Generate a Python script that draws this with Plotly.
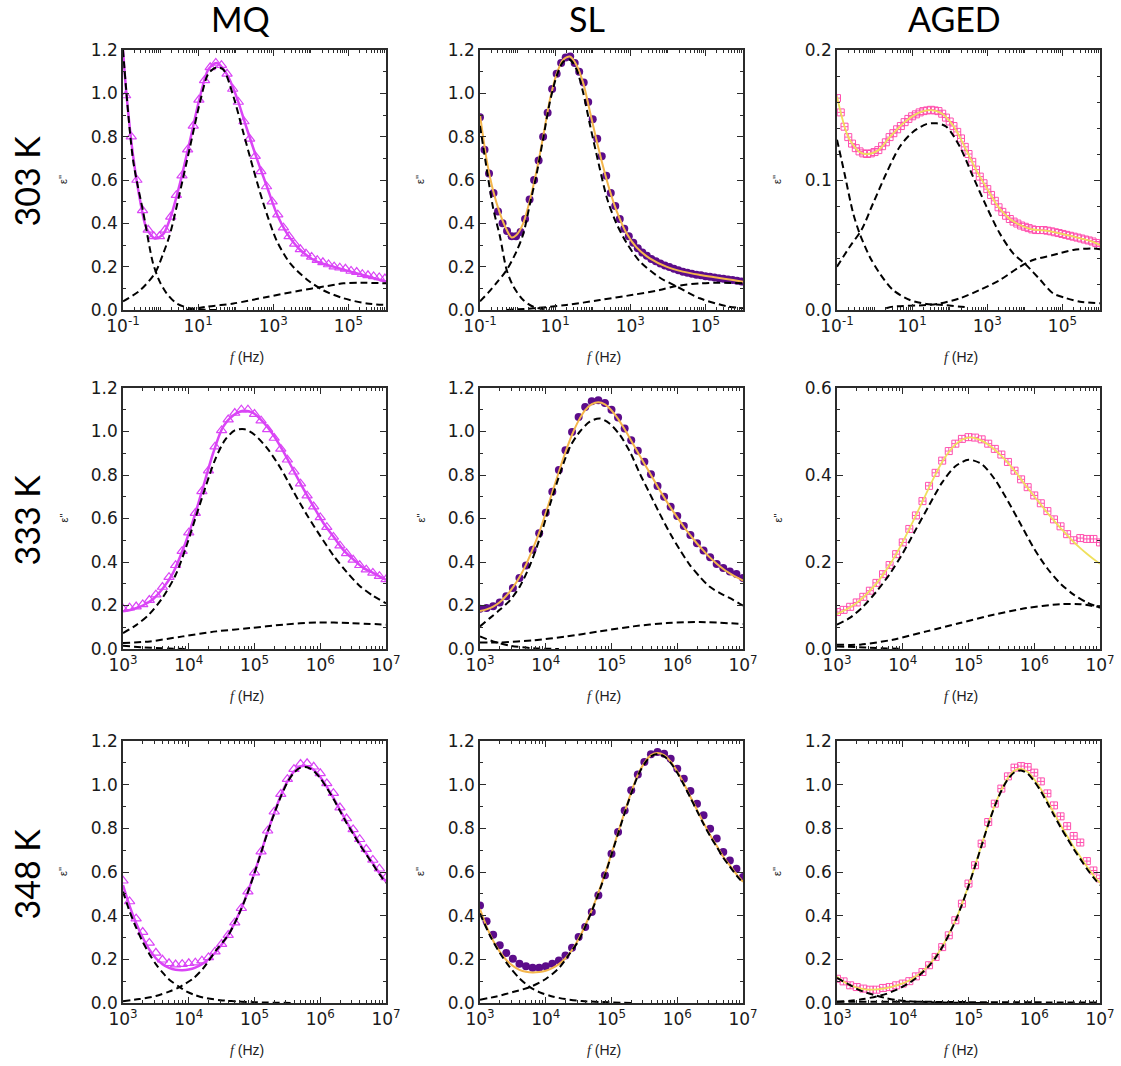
import plotly.graph_objects as go

# ---------------- shared frequency grids (log10 f) ----------------
LOGF_HI = [3.0, 3.1, 3.2, 3.3, 3.4, 3.5, 3.6, 3.7, 3.8, 3.9, 4.0, 4.1, 4.2, 4.3, 4.4, 4.5, 4.6, 4.7, 4.8, 4.9,
           5.0, 5.1, 5.2, 5.3, 5.4, 5.5, 5.6, 5.7, 5.8, 5.9, 6.0, 6.1, 6.2, 6.3, 6.4, 6.5, 6.6, 6.7, 6.8, 6.9, 7.0]

# ---------------- 303 K : MQ ----------------
MQ303_LOGF = [-0.93, -0.78, -0.63, -0.48, -0.33, -0.18, -0.03, 0.12, 0.27, 0.42, 0.57, 0.72, 0.87, 1.02, 1.17,
              1.32, 1.47, 1.62, 1.77, 1.92, 2.07, 2.22, 2.37, 2.52, 2.67, 2.82, 2.97, 3.12, 3.27, 3.42, 3.57,
              3.72, 3.87, 4.02, 4.17, 4.32, 4.47, 4.62, 4.77, 4.92, 5.07, 5.22, 5.37, 5.52, 5.67, 5.82, 5.97]
MQ303_EPS = [0.99, 0.80, 0.60, 0.46, 0.37, 0.34, 0.34, 0.37, 0.43, 0.53, 0.62, 0.74, 0.85, 0.97, 1.06,
             1.12, 1.14, 1.13, 1.09, 1.02, 0.96, 0.87, 0.79, 0.71, 0.64, 0.57, 0.50, 0.44, 0.38, 0.34, 0.305,
             0.28, 0.26, 0.245, 0.23, 0.22, 0.21, 0.20, 0.195, 0.19, 0.18, 0.175, 0.165, 0.16, 0.155, 0.15, 0.145]
MQ303_FIT_LOGF = [-1.0, -0.91, -0.73, -0.55, -0.38, -0.15, 0.07, 0.25, 0.51, 0.78, 1.05, 1.27, 1.49, 1.76,
                  2.02, 2.29, 2.56, 2.83, 3.09, 3.36, 3.72, 4.16, 4.6, 5.05, 5.49, 6.0]
MQ303_FIT = [1.2, 1.0, 0.71, 0.51, 0.38, 0.33, 0.35, 0.42, 0.58, 0.78, 0.985, 1.11, 1.14, 1.09,
             0.985, 0.84, 0.70, 0.57, 0.445, 0.355, 0.277, 0.223, 0.20, 0.177, 0.157, 0.13]
MQ303_C1_LOGF = [-1.0, -0.73, -0.46, -0.2, -0.02, 0.16, 0.43, 0.78, 1.2, 1.6]
MQ303_C1 = [1.2, 0.69, 0.45, 0.215, 0.13, 0.077, 0.03, 0.008, 0.001, 0.0]
MQ303_C2_LOGF = [-1.0, -0.55, -0.15, 0.07, 0.25, 0.51, 0.78, 1.05, 1.27, 1.49, 1.67, 1.94, 2.2, 2.47, 2.74,
                 3.09, 3.45, 3.9, 4.34, 4.87, 5.49, 6.0]
MQ303_C2 = [0.04, 0.09, 0.17, 0.26, 0.35, 0.54, 0.75, 0.96, 1.09, 1.12, 1.11, 0.985, 0.82, 0.65, 0.49,
            0.32, 0.215, 0.14, 0.09, 0.054, 0.03, 0.023]
MQ303_C3_LOGF = [0.7, 1.23, 1.94, 2.83, 3.72, 4.34, 4.87, 5.32, 6.0]
MQ303_C3 = [0.0, 0.015, 0.03, 0.06, 0.09, 0.108, 0.123, 0.126, 0.123]

# ---------------- 303 K : SL ----------------
SL303_LOGF = [-1.0, -0.88, -0.76, -0.64, -0.52, -0.40, -0.28, -0.16, -0.04, 0.08, 0.20, 0.32, 0.44, 0.56, 0.68,
              0.80, 0.92, 1.04, 1.16, 1.28, 1.40, 1.52, 1.64, 1.76, 1.88, 2.00, 2.12, 2.24, 2.36, 2.48, 2.60,
              2.72, 2.84, 2.96, 3.08, 3.20, 3.32, 3.44, 3.56, 3.68, 3.80, 3.92, 4.04, 4.16, 4.28, 4.40, 4.52,
              4.64, 4.76, 4.88, 5.00, 5.12, 5.24, 5.36, 5.48, 5.60, 5.72, 5.84, 5.96]
SL303_EPS = [0.89, 0.74, 0.63, 0.54, 0.455, 0.40, 0.365, 0.34, 0.34, 0.36, 0.42, 0.51, 0.60, 0.69, 0.80,
             0.91, 1.02, 1.09, 1.14, 1.165, 1.17, 1.14, 1.10, 1.05, 0.96, 0.88, 0.79, 0.71, 0.62, 0.54, 0.48,
             0.42, 0.375, 0.34, 0.31, 0.285, 0.265, 0.25, 0.235, 0.225, 0.215, 0.205, 0.198, 0.19, 0.183, 0.177,
             0.172, 0.167, 0.163, 0.16, 0.156, 0.153, 0.15, 0.147, 0.144, 0.141, 0.138, 0.135, 0.131]
SL303_FIT_LOGF = [-1.0, -0.82, -0.65, -0.47, -0.29, -0.16, -0.03, 0.15, 0.33, 0.51, 0.68, 0.86, 1.04, 1.21,
                  1.39, 1.57, 1.75, 1.92, 2.1, 2.28, 2.45, 2.63, 2.9, 3.16, 3.52, 3.96, 4.4, 4.85, 5.29, 5.73, 6.0]
SL303_FIT = [0.90, 0.69, 0.55, 0.446, 0.37, 0.335, 0.346, 0.40, 0.508, 0.646, 0.80, 0.97, 1.09, 1.154,
             1.17, 1.13, 1.046, 0.92, 0.785, 0.66, 0.554, 0.46, 0.354, 0.29, 0.238, 0.20, 0.177, 0.162, 0.15,
             0.138, 0.13]
SL303_C1_LOGF = [-1.0, -0.82, -0.65, -0.47, -0.29, -0.11, 0.15, 0.42, 0.86]
SL303_C1 = [0.85, 0.65, 0.47, 0.34, 0.185, 0.108, 0.046, 0.015, 0.0]
SL303_C2_LOGF = [-1.0, -0.78, -0.56, -0.29, -0.03, 0.15, 0.33, 0.51, 0.68, 0.86, 1.04, 1.21, 1.39, 1.57, 1.75,
                 1.92, 2.1, 2.39, 2.63, 2.9, 3.25, 3.78, 4.22, 4.85, 5.55, 6.0]
SL303_C2 = [0.04, 0.08, 0.125, 0.185, 0.27, 0.35, 0.49, 0.63, 0.79, 0.96, 1.08, 1.145, 1.155, 1.11, 1.0,
            0.86, 0.72, 0.51, 0.40, 0.31, 0.225, 0.15, 0.11, 0.054, 0.018, 0.008]
SL303_C3_LOGF = [-0.3, 0.42, 1.3, 2.19, 3.07, 3.78, 4.2, 4.85, 5.4, 6.0]
SL303_C3 = [0.0, 0.008, 0.023, 0.046, 0.07, 0.092, 0.11, 0.123, 0.126, 0.123]

# ---------------- 303 K : AGED ----------------
AG303_LOGF = [-1.0, -0.9, -0.8, -0.7, -0.6, -0.5, -0.4, -0.3, -0.2, -0.1, 0.0, 0.1, 0.2, 0.3, 0.4, 0.5, 0.6,
              0.7, 0.8, 0.9, 1.0, 1.1, 1.2, 1.3, 1.4, 1.5, 1.6, 1.7, 1.8, 1.9, 2.0, 2.1, 2.2, 2.3, 2.4, 2.5,
              2.6, 2.7, 2.8, 2.9, 3.0, 3.1, 3.2, 3.3, 3.4, 3.5, 3.6, 3.7, 3.8, 3.9, 4.0, 4.1, 4.2, 4.3, 4.4,
              4.5, 4.6, 4.7, 4.8, 4.9, 5.0, 5.1, 5.2, 5.3, 5.4, 5.5, 5.6, 5.7, 5.8, 5.9, 6.0]
AG303_EPS = [0.163, 0.152, 0.141, 0.133, 0.128, 0.1245, 0.122, 0.1205, 0.120, 0.1205, 0.1215, 0.123, 0.126,
             0.129, 0.133, 0.136, 0.139, 0.1415, 0.1445, 0.147, 0.149, 0.1505, 0.152, 0.153, 0.1535, 0.154,
             0.1535, 0.153, 0.151, 0.148, 0.145, 0.1415, 0.137, 0.132, 0.1255, 0.120, 0.114, 0.108, 0.1026,
             0.0975, 0.093, 0.0885, 0.084, 0.079, 0.0755, 0.0725, 0.070, 0.068, 0.0665, 0.065, 0.064, 0.063,
             0.062, 0.0615, 0.0615, 0.0615, 0.061, 0.0605, 0.0598, 0.0592, 0.0585, 0.0578, 0.0571, 0.0564,
             0.0557, 0.055, 0.0542, 0.0535, 0.0527, 0.0515, 0.050]
AG303_FIT_LOGF = [-1.0, -0.7, -0.4, -0.2, 0.1, 0.4, 0.8, 1.2, 1.5, 1.8, 2.1, 2.4, 2.7, 3.0, 3.3, 3.6, 3.9,
                  4.2, 4.5, 4.8, 5.1, 5.4, 5.7, 6.0]
AG303_FIT = [0.164, 0.133, 0.1215, 0.1198, 0.1228, 0.1328, 0.1445, 0.152, 0.1538, 0.151, 0.1415, 0.1255,
             0.108, 0.093, 0.079, 0.070, 0.065, 0.062, 0.0612, 0.0598, 0.0578, 0.0557, 0.0535, 0.050]
AG303_C1_LOGF = [-1.0, -0.8, -0.57, -0.4, -0.13, 0.14, 0.49, 0.94, 1.38, 1.74, 2.5]
AG303_C1 = [0.131, 0.105, 0.0744, 0.059, 0.041, 0.028, 0.0154, 0.0077, 0.0046, 0.004, 0.002]
AG303_C2_LOGF = [-1.0, -0.66, -0.35, -0.04, 0.31, 0.67, 1.02, 1.38, 1.65, 1.91, 2.27, 2.62, 2.98, 3.33,
                 3.69, 4.04, 4.4, 4.75, 5.11, 5.47, 6.0]
AG303_C2 = [0.0333, 0.0487, 0.0615, 0.082, 0.105, 0.1256, 0.137, 0.143, 0.1436, 0.141, 0.1256, 0.1026,
            0.0795, 0.059, 0.0436, 0.0345, 0.0235, 0.0128, 0.009, 0.0064, 0.0051]
AG303_C3_LOGF = [0.31, 0.49, 1.38, 1.74, 2.27, 2.8, 3.33, 3.87, 4.22, 4.75, 5.29, 5.82, 6.0]
AG303_C3 = [0.0013, 0.0026, 0.0038, 0.005, 0.009, 0.0154, 0.023, 0.0333, 0.0385, 0.0423, 0.0462, 0.0474, 0.0467]

# ---------------- 333 K : MQ ----------------
MQ333_EPS = [0.185, 0.19, 0.195, 0.205, 0.225, 0.25, 0.285, 0.33, 0.385, 0.45, 0.535, 0.625, 0.725, 0.82,
             0.93, 1.005, 1.055, 1.085, 1.10, 1.10, 1.08, 1.05, 1.01, 0.97, 0.92, 0.87, 0.815, 0.76, 0.705,
             0.655, 0.605, 0.56, 0.515, 0.475, 0.44, 0.41, 0.385, 0.365, 0.35, 0.335, 0.32]
MQ333_FIT_LOGF = [3.0, 3.15, 3.3, 3.46, 3.61, 3.76, 3.91, 4.07, 4.22, 4.37, 4.52, 4.68, 4.83, 4.98, 5.13,
                  5.29, 5.44, 5.59, 5.74, 5.9, 6.05, 6.2, 6.35, 6.51, 6.66, 6.81, 7.0]
MQ333_FIT = [0.173, 0.183, 0.20, 0.23, 0.28, 0.349, 0.456, 0.594, 0.746, 0.90, 1.02, 1.075, 1.095, 1.085,
             1.044, 0.983, 0.907, 0.823, 0.739, 0.654, 0.578, 0.517, 0.456, 0.41, 0.372, 0.349, 0.318]
MQ333_C1_LOGF = [3.0, 3.2, 3.4, 3.6, 3.8, 3.95, 4.1, 4.25, 4.4, 4.55, 4.7, 4.85, 5.0, 5.2, 5.4, 5.6, 5.8,
                 6.0, 6.2, 6.4, 6.6, 6.8, 7.0]
MQ333_C1 = [0.073, 0.11, 0.16, 0.235, 0.34, 0.46, 0.60, 0.74, 0.87, 0.96, 1.005, 1.01, 0.985, 0.92, 0.83,
            0.72, 0.615, 0.52, 0.43, 0.355, 0.29, 0.245, 0.21]
MQ333_C2_LOGF = [3.0, 3.41, 3.91, 4.42, 4.93, 5.44, 5.95, 6.46, 7.0]
MQ333_C2 = [0.0275, 0.035, 0.058, 0.081, 0.096, 0.112, 0.122, 0.119, 0.112]
MQ333_C3_LOGF = [3.0, 3.3, 3.7, 4.0]
MQ333_C3 = [0.015, 0.008, 0.002, 0.0]

# ---------------- 333 K : SL ----------------
SL333_EPS = [0.185, 0.188, 0.196, 0.214, 0.242, 0.28, 0.326, 0.384, 0.456, 0.532, 0.627, 0.723, 0.823,
             0.914, 0.998, 1.067, 1.113, 1.139, 1.144, 1.131, 1.10, 1.064, 1.014, 0.96, 0.911, 0.861, 0.804,
             0.749, 0.70, 0.654, 0.612, 0.566, 0.524, 0.486, 0.453, 0.422, 0.391, 0.372, 0.356, 0.345, 0.326]
SL333_FIT = [0.175, 0.182, 0.195, 0.215, 0.245, 0.283, 0.33, 0.388, 0.458, 0.535, 0.625, 0.72, 0.815, 0.905,
             0.985, 1.05, 1.098, 1.126, 1.135, 1.125, 1.097, 1.058, 1.01, 0.958, 0.905, 0.852, 0.80, 0.747,
             0.697, 0.65, 0.605, 0.562, 0.522, 0.485, 0.452, 0.42, 0.392, 0.368, 0.348, 0.33, 0.315]
SL333_C1_LOGF = [3.0, 3.15, 3.3, 3.46, 3.61, 3.76, 3.91, 4.06, 4.22, 4.37, 4.52, 4.67, 4.82, 4.97, 5.13,
                 5.28, 5.43, 5.58, 5.73, 5.89, 6.04, 6.19, 6.34, 6.49, 6.65, 6.85, 7.0]
SL333_C1 = [0.104, 0.142, 0.18, 0.225, 0.29, 0.385, 0.51, 0.66, 0.81, 0.93, 1.0, 1.045, 1.06, 1.037,
            0.983, 0.907, 0.807, 0.716, 0.624, 0.532, 0.456, 0.387, 0.333, 0.287, 0.257, 0.226, 0.199]
SL333_C2_LOGF = [3.0, 3.3, 3.81, 4.32, 4.82, 5.33, 5.84, 6.34, 7.0]
SL333_C2 = [0.03, 0.03, 0.04, 0.058, 0.081, 0.104, 0.119, 0.124, 0.115]
SL333_C3_LOGF = [3.0, 3.2, 3.46, 3.8, 4.2]
SL333_C3 = [0.058, 0.035, 0.015, 0.004, 0.0]

# ---------------- 333 K : AGED ----------------
AG333_EPS = [0.085, 0.09, 0.097, 0.107, 0.12, 0.134, 0.152, 0.172, 0.193, 0.218, 0.245, 0.276, 0.307, 0.34,
             0.375, 0.405, 0.433, 0.455, 0.472, 0.483, 0.487, 0.486, 0.482, 0.472, 0.46, 0.447, 0.43, 0.41,
             0.39, 0.372, 0.353, 0.335, 0.317, 0.298, 0.282, 0.264, 0.25, 0.255, 0.253, 0.253, 0.245]
AG333_FIT = [0.08, 0.088, 0.096, 0.106, 0.119, 0.134, 0.151, 0.171, 0.193, 0.218, 0.246, 0.276, 0.307, 0.339,
             0.371, 0.402, 0.43, 0.453, 0.47, 0.481, 0.486, 0.485, 0.479, 0.47, 0.458, 0.444, 0.428, 0.41,
             0.39, 0.37, 0.351, 0.332, 0.313, 0.295, 0.278, 0.262, 0.246, 0.232, 0.219, 0.207, 0.196]
AG333_C1_LOGF = [3.0, 3.2, 3.4, 3.6, 3.8, 4.0, 4.2, 4.4, 4.6, 4.8, 5.0, 5.2, 5.4, 5.6, 5.8, 6.0, 6.2, 6.4,
                 6.6, 6.8, 7.0]
AG333_C1 = [0.056, 0.072, 0.098, 0.132, 0.172, 0.22, 0.275, 0.33, 0.383, 0.42, 0.435, 0.425, 0.39, 0.34,
            0.285, 0.23, 0.185, 0.15, 0.125, 0.107, 0.095]
AG333_C2_LOGF = [3.0, 3.35, 3.85, 4.36, 4.87, 5.38, 5.88, 6.39, 6.7, 7.0]
AG333_C2 = [0.01, 0.01, 0.0214, 0.0405, 0.0596, 0.0787, 0.094, 0.103, 0.103, 0.096]
AG333_C3_LOGF = [3.0, 3.5, 4.0]
AG333_C3 = [0.006, 0.003, 0.0]

# ---------------- 348 K : MQ ----------------
MQ348_EPS = [0.56, 0.465, 0.386, 0.325, 0.275, 0.23, 0.198, 0.182, 0.176, 0.178, 0.182, 0.185, 0.194, 0.209,
             0.235, 0.27, 0.311, 0.368, 0.434, 0.51, 0.597, 0.693, 0.789, 0.876, 0.957, 1.025, 1.071, 1.095,
             1.098, 1.082, 1.052, 1.006, 0.961, 0.895, 0.845, 0.795, 0.75, 0.705, 0.655, 0.615, 0.575]
MQ348_FIT = [0.54, 0.445, 0.365, 0.30, 0.245, 0.205, 0.178, 0.161, 0.152, 0.15, 0.153, 0.162, 0.178, 0.20,
             0.23, 0.268, 0.312, 0.368, 0.434, 0.51, 0.597, 0.69, 0.785, 0.87, 0.95, 1.015, 1.06, 1.083, 1.085,
             1.068, 1.035, 0.99, 0.94, 0.885, 0.83, 0.78, 0.73, 0.685, 0.64, 0.595, 0.555]
MQ348_C1_LOGF = [3.0, 3.25, 3.5, 3.7, 3.86, 4.07, 4.22, 4.42, 4.6, 4.7, 4.8, 4.9, 5.0, 5.1, 5.2, 5.3, 5.4,
                 5.5, 5.6, 5.7, 5.8, 5.9, 6.0, 6.1, 6.2, 6.3, 6.4, 6.5, 6.6, 6.7, 6.8, 6.9, 7.0]
MQ348_C1 = [0.008, 0.018, 0.032, 0.052, 0.073, 0.113, 0.159, 0.243, 0.31, 0.366, 0.432, 0.508, 0.595, 0.688,
            0.782, 0.867, 0.945, 1.01, 1.055, 1.078, 1.08, 1.063, 1.03, 0.985, 0.935, 0.88, 0.825, 0.775,
            0.725, 0.68, 0.635, 0.59, 0.55]
MQ348_C2_LOGF = [3.0, 3.1, 3.2, 3.3, 3.4, 3.5, 3.6, 3.7, 3.86, 3.97, 4.1, 4.22, 4.48, 4.8, 5.2, 5.6]
MQ348_C2 = [0.51, 0.42, 0.345, 0.28, 0.225, 0.178, 0.14, 0.108, 0.073, 0.052, 0.036, 0.025, 0.013, 0.006,
            0.002, 0.0]

# ---------------- 348 K : SL ----------------
SL348_EPS = [0.447, 0.374, 0.313, 0.264, 0.229, 0.203, 0.18, 0.168, 0.162, 0.162, 0.168, 0.18, 0.195, 0.218,
             0.253, 0.302, 0.348, 0.417, 0.493, 0.585, 0.684, 0.783, 0.882, 0.974, 1.047, 1.104, 1.139, 1.15,
             1.142, 1.119, 1.073, 1.027, 0.971, 0.913, 0.86, 0.798, 0.753, 0.692, 0.653, 0.615, 0.577]
SL348_FIT = [0.43, 0.35, 0.285, 0.235, 0.197, 0.17, 0.152, 0.143, 0.14, 0.142, 0.148, 0.16, 0.178, 0.205,
             0.243, 0.293, 0.355, 0.425, 0.505, 0.59, 0.685, 0.78, 0.875, 0.965, 1.045, 1.10, 1.135, 1.145,
             1.135, 1.105, 1.06, 1.005, 0.945, 0.885, 0.825, 0.77, 0.72, 0.67, 0.63, 0.59, 0.555]
SL348_C1_LOGF = [3.0, 3.25, 3.5, 3.76, 4.0, 4.2, 4.35, 4.5, 4.6, 4.7, 4.8, 4.9, 5.0, 5.1, 5.2, 5.3, 5.4, 5.5,
                 5.6, 5.7, 5.8, 5.9, 6.0, 6.1, 6.2, 6.3, 6.4, 6.5, 6.6, 6.7, 6.8, 6.9, 7.0]
SL348_C1 = [0.015, 0.03, 0.05, 0.073, 0.11, 0.16, 0.22, 0.285, 0.35, 0.42, 0.50, 0.585, 0.68, 0.775, 0.87,
            0.96, 1.04, 1.095, 1.13, 1.14, 1.13, 1.10, 1.055, 1.0, 0.94, 0.88, 0.82, 0.765, 0.715, 0.665,
            0.625, 0.585, 0.55]
SL348_C2_LOGF = [3.0, 3.15, 3.3, 3.45, 3.6, 3.76, 3.9, 4.1, 4.3, 4.55, 4.8, 5.3]
SL348_C2 = [0.41, 0.31, 0.23, 0.165, 0.113, 0.073, 0.05, 0.03, 0.018, 0.009, 0.005, 0.0]

# ---------------- 348 K : AGED ----------------
AG348_EPS = [0.111, 0.099, 0.081, 0.073, 0.066, 0.061, 0.061, 0.069, 0.073, 0.081, 0.089, 0.10, 0.122, 0.142,
             0.173, 0.211, 0.256, 0.31, 0.379, 0.455, 0.547, 0.631, 0.73, 0.829, 0.913, 0.982, 1.038, 1.078,
             1.085, 1.081, 1.055, 1.015, 0.96, 0.905, 0.855, 0.81, 0.765, 0.735, 0.65, 0.607, 0.57]
AG348_FIT = [0.12, 0.097, 0.082, 0.071, 0.064, 0.061, 0.062, 0.066, 0.072, 0.08, 0.09, 0.103, 0.122, 0.145,
             0.174, 0.212, 0.258, 0.315, 0.377, 0.453, 0.538, 0.63, 0.725, 0.82, 0.905, 0.975, 1.03, 1.065,
             1.072, 1.058, 1.025, 0.98, 0.925, 0.87, 0.815, 0.765, 0.715, 0.67, 0.625, 0.585, 0.55]
AG348_C1_LOGF = [3.0, 3.2, 3.4, 3.6, 3.75, 3.9, 4.0, 4.1, 4.2, 4.3, 4.4, 4.5, 4.6, 4.7, 4.8, 4.9, 5.0, 5.1,
                 5.2, 5.3, 5.4, 5.5, 5.6, 5.7, 5.8, 5.9, 6.0, 6.1, 6.2, 6.3, 6.4, 6.5, 6.6, 6.7, 6.8, 6.9, 7.0]
AG348_C1 = [0.006, 0.01, 0.018, 0.03, 0.042, 0.06, 0.075, 0.092, 0.113, 0.14, 0.17, 0.208, 0.255, 0.312,
            0.375, 0.45, 0.535, 0.627, 0.722, 0.817, 0.902, 0.972, 1.025, 1.057, 1.065, 1.05, 1.015, 0.97,
            0.915, 0.86, 0.805, 0.755, 0.705, 0.66, 0.615, 0.575, 0.54]
AG348_C2_LOGF = [3.0, 3.15, 3.3, 3.45, 3.6, 3.75, 3.9, 4.1, 4.4, 4.8, 5.3]
AG348_C2 = [0.115, 0.09, 0.065, 0.047, 0.034, 0.022, 0.014, 0.008, 0.004, 0.001, 0.0]
AG348_C3_LOGF = [3.0, 4.0, 5.0, 6.0, 7.0]
AG348_C3 = [0.006, 0.006, 0.004, 0.003, 0.002]

# ---------------- labels ----------------
COL_TITLES = ["MQ", "SL", "AGED"]
ROW_TITLES = ["303 K", "333 K", "348 K"]
XTICK_ROW1_EXP = [-1, 1, 3, 5]
XTICK_HI_EXP = [3, 4, 5, 6, 7]
Y_RANGES = [[0, 1.2], [0, 1.2], [0, 0.2], [0, 1.2], [0, 1.2], [0, 0.6], [0, 1.2], [0, 1.2], [0, 1.2]]
Y_DTICK = [0.2, 0.2, 0.1, 0.2, 0.2, 0.2, 0.2, 0.2, 0.2]
Y_MINOR = [0.1, 0.1, 0.02, 0.1, 0.1, 0.05, 0.1, 0.1, 0.1]

# ---------------- styles ----------------
MQ_COLOR = "#DA44F6"
SL_MARK = "#5C0C8A"
SL_FIT = "#F4B64C"
AG_MARK = "#FF4FAE"
AG_FIT = "#EFE05C"
STYLE = {
    "MQ": dict(marker=dict(symbol="triangle-up-open", size=9, color=MQ_COLOR, line=dict(width=1.2, color=MQ_COLOR)),
               fit=dict(color=MQ_COLOR, width=2.5)),
    "SL": dict(marker=dict(symbol="circle", size=8, color=SL_MARK, line=dict(width=0)),
               fit=dict(color=SL_FIT, width=2)),
    "AGED": dict(marker=dict(symbol="square-cross-open", size=7, color=AG_MARK, line=dict(width=1, color=AG_MARK)),
                 fit=dict(color=AG_FIT, width=1.8)),
}

PANELS = [
    ("MQ", MQ303_LOGF, MQ303_EPS, MQ303_FIT_LOGF, MQ303_FIT,
     [(MQ303_C1_LOGF, MQ303_C1), (MQ303_C2_LOGF, MQ303_C2), (MQ303_C3_LOGF, MQ303_C3)]),
    ("SL", SL303_LOGF, SL303_EPS, SL303_FIT_LOGF, SL303_FIT,
     [(SL303_C1_LOGF, SL303_C1), (SL303_C2_LOGF, SL303_C2), (SL303_C3_LOGF, SL303_C3)]),
    ("AGED", AG303_LOGF, AG303_EPS, AG303_FIT_LOGF, AG303_FIT,
     [(AG303_C1_LOGF, AG303_C1), (AG303_C2_LOGF, AG303_C2), (AG303_C3_LOGF, AG303_C3)]),
    ("MQ", LOGF_HI, MQ333_EPS, MQ333_FIT_LOGF, MQ333_FIT,
     [(MQ333_C1_LOGF, MQ333_C1), (MQ333_C2_LOGF, MQ333_C2), (MQ333_C3_LOGF, MQ333_C3)]),
    ("SL", LOGF_HI, SL333_EPS, LOGF_HI, SL333_FIT,
     [(SL333_C1_LOGF, SL333_C1), (SL333_C2_LOGF, SL333_C2), (SL333_C3_LOGF, SL333_C3)]),
    ("AGED", LOGF_HI, AG333_EPS, LOGF_HI, AG333_FIT,
     [(AG333_C1_LOGF, AG333_C1), (AG333_C2_LOGF, AG333_C2), (AG333_C3_LOGF, AG333_C3)]),
    ("MQ", LOGF_HI, MQ348_EPS, LOGF_HI, MQ348_FIT,
     [(MQ348_C1_LOGF, MQ348_C1), (MQ348_C2_LOGF, MQ348_C2)]),
    ("SL", LOGF_HI, SL348_EPS, LOGF_HI, SL348_FIT,
     [(SL348_C1_LOGF, SL348_C1), (SL348_C2_LOGF, SL348_C2)]),
    ("AGED", LOGF_HI, AG348_EPS, LOGF_HI, AG348_FIT,
     [(AG348_C1_LOGF, AG348_C1), (AG348_C2_LOGF, AG348_C2), (AG348_C3_LOGF, AG348_C3)]),
]

W, H = 1121, 1066


def px(x):
    return x / W


def py(y):
    return 1 - y / H


X_DOM = [[px(123), px(386)], [px(480), px(743)], [px(837), px(1100)]]
Y_DOM = [[py(310), py(50)], [py(649), py(388)], [py(1003), py(741)]]
AX_COLOR = "#2b2b2b"
TICK_FONT = dict(family="DejaVu Sans, Liberation Sans, Arial, sans-serif", size=17, color="#1a1a1a")


def pw(v):
    return [10 ** x for x in v]


fig = go.Figure()
layout = dict(width=W, height=H, autosize=False,
              margin=dict(l=0, r=0, t=0, b=0, pad=0, autoexpand=False), paper_bgcolor="white",
              plot_bgcolor="white", showlegend=False, annotations=[])

for i, (kind, mlogf, meps, flogf, feps, comps) in enumerate(PANELS):
    r, c = divmod(i, 3)
    n = i + 1
    xa = "x" if n == 1 else f"x{n}"
    ya = "y" if n == 1 else f"y{n}"
    st = STYLE[kind]
    fig.add_trace(go.Scatter(x=pw(mlogf), y=meps, mode="markers", marker=st["marker"], xaxis=xa, yaxis=ya,
                             hoverinfo="skip"))
    fig.add_trace(go.Scatter(x=pw(flogf), y=feps, mode="lines", line=dict(shape="spline", smoothing=0.8, **st["fit"]),
                             xaxis=xa, yaxis=ya, hoverinfo="skip"))
    for clogf, ceps in comps:
        fig.add_trace(go.Scatter(x=pw(clogf), y=ceps, mode="lines",
                                 line=dict(color="black", width=2, dash="7px,4px", shape="spline", smoothing=0.8),
                                 xaxis=xa, yaxis=ya, hoverinfo="skip"))

    exps = XTICK_ROW1_EXP if r == 0 else XTICK_HI_EXP
    xrange = [-1, 6] if r == 0 else [3, 7]
    common = dict(showline=True, linecolor=AX_COLOR, linewidth=1.5, mirror="allticks", ticks="inside",
                  ticklen=6, tickwidth=1.3, tickcolor=AX_COLOR, showgrid=False, zeroline=False,
                  tickfont=TICK_FONT, automargin=False)
    layout["xaxis" + ("" if n == 1 else str(n))] = dict(
        type="log", range=xrange, domain=X_DOM[c], anchor=ya,
        tickmode="array", tickvals=[10 ** e for e in exps],
        ticktext=[f"10<sup>{e}</sup>" for e in exps],
        minor=dict(ticks="inside", ticklen=3, tickwidth=1, tickcolor=AX_COLOR, dtick="D1", showgrid=False),
        **common)
    layout["yaxis" + ("" if n == 1 else str(n))] = dict(
        range=Y_RANGES[i], domain=Y_DOM[r], anchor=xa, tick0=0, dtick=Y_DTICK[i],
        tickformat=".1f",
        minor=dict(ticks="inside", ticklen=3, tickwidth=1, tickcolor=AX_COLOR, dtick=Y_MINOR[i], tick0=0,
                   showgrid=False),
        **common)

    left_px = [123, 480, 837][c]
    top_px, bot_px = [(50, 310), (388, 649), (741, 1003)][r]
    # y-axis title
    layout["annotations"].append(dict(
        text="ε''", xref="paper", yref="paper", x=px(left_px - 60), y=py((top_px + bot_px) / 2),
        textangle=-90, showarrow=False,
        font=dict(family="Liberation Sans, Arial", size=11, color="#222"), xanchor="center", yanchor="middle"))
    # x-axis title
    layout["annotations"].append(dict(
        text="<span style='font-family:Liberation Serif'><i>f</i></span> (Hz)", xref="paper", yref="paper",
        x=px(left_px + 131.5 - 8), y=py(bot_px + 47), showarrow=False,
        font=dict(family="Liberation Sans, Arial", size=14, color="#222"), xanchor="center", yanchor="middle"))

COL_X = [241, 587, 954]
for t, xc in zip(COL_TITLES, COL_X):
    layout["annotations"].append(dict(text=t, xref="paper", yref="paper", x=px(xc), y=py(18),
                                      showarrow=False, xanchor="center", yanchor="middle",
                                      font=dict(family="Lato, Open Sans, sans-serif", size=34, color="black")))
ROW_Y = [181, 520, 874]
for t, yc in zip(ROW_TITLES, ROW_Y):
    layout["annotations"].append(dict(text=t, xref="paper", yref="paper", x=px(25.5), y=py(yc),
                                      textangle=-90, showarrow=False, xanchor="center", yanchor="middle",
                                      font=dict(family="Lato, Open Sans, sans-serif", size=34, color="black")))

fig.update_layout(**layout)
fig.write_html("out.html")
